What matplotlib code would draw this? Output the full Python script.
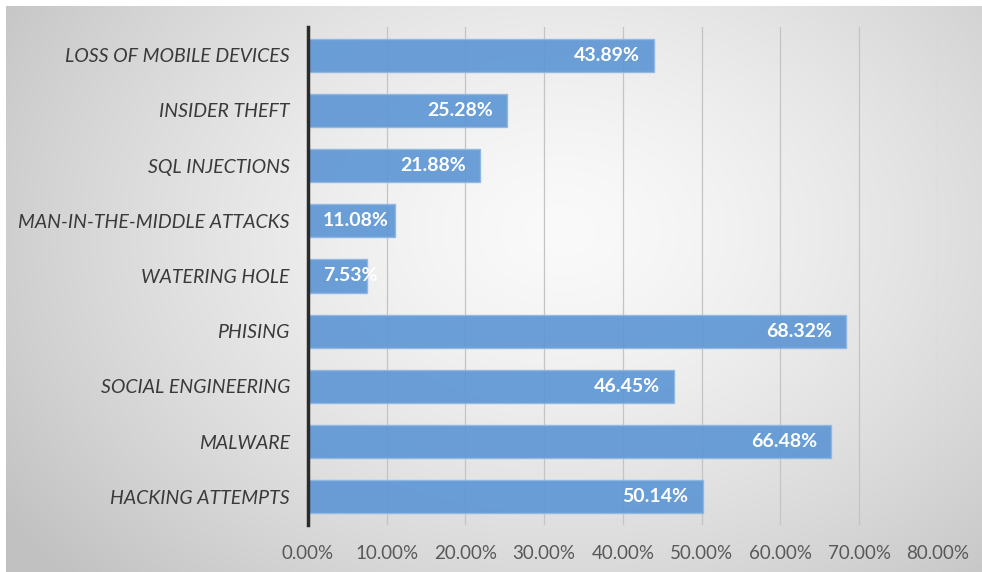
import matplotlib.pyplot as plt
import numpy as np
from matplotlib.ticker import FuncFormatter

categories = ['HACKING ATTEMPTS', 'MALWARE', 'SOCIAL ENGINEERING', 'PHISING',
              'WATERING HOLE', 'MAN-IN-THE-MIDDLE ATTACKS', 'SQL INJECTIONS',
              'INSIDER THEFT', 'LOSS OF MOBILE DEVICES']
values = [50.14, 66.48, 46.45, 68.32, 7.53, 11.08, 21.88, 25.28, 43.89]
ticks = [0, 10, 20, 30, 40, 50, 60, 70, 80]

plt.rcParams['font.family'] = ['Lato', 'DejaVu Sans']

fig = plt.figure(figsize=(9.82, 5.72), dpi=100)

# radial grey background
bg = fig.add_axes([0, 0, 1, 1], zorder=0)
yy, xx = np.mgrid[0:572, 0:982]
r = np.sqrt(((xx - 560) / 560.0) ** 2 + ((yy - 230) / 420.0) ** 2)
shade = np.clip(0.98 - 0.17 * r ** 1.4, 0.76, 0.98)
img = np.dstack([shade, shade, shade])
img[:6, :, :] = 1.0
img[:, :6, :] = 1.0
bg.imshow(img, aspect='auto', extent=[0, 1, 0, 1])
bg.axis('off')

ax = fig.add_axes([0.3136, 0.083, 0.955 - 0.3136, 0.952 - 0.083], zorder=1)
ax.set_facecolor('none')

y = np.arange(len(categories))
bars = ax.barh(y, values, height=0.6, color='#5f97d4', edgecolor='#8fb6e3',
               linewidth=1.0, alpha=0.92, zorder=2)

ax.set_xlim(0, 80)
ax.set_ylim(-0.5, len(categories) - 0.5)

labels = []
for b, v in zip(bars, values):
    t = ax.text(v - 1.8, b.get_y() + b.get_height() / 2, '%.2f%%' % v,
                ha='right', va='center', color='white', fontweight='bold',
                fontsize=14, zorder=3)
    labels.append(t)

# labels that would run into the axis are pushed right, like Excel does
fig.canvas.draw()
x0 = ax.transData.transform((0, 0))[0]
for t in labels:
    ext = t.get_window_extent()
    if ext.x0 < x0 + 14:
        t.set_x(1.9)
        t.set_ha('left')

ax.set_xticks(ticks)
ax.xaxis.set_major_formatter(FuncFormatter(lambda x, p: '%.2f%%' % x))
ax.set_yticks(y)
ax.set_yticklabels(categories, fontstyle='italic')
ax.tick_params(axis='y', length=0, pad=13, labelsize=14, labelcolor='#3a3a3a')
ax.tick_params(axis='x', length=0, pad=15, labelsize=13.5, labelcolor='#595959')

ax.grid(axis='x', color='#c4c4c4', linewidth=0.9, zorder=1)
ax.set_axisbelow(True)
for s in ['top', 'right', 'bottom']:
    ax.spines[s].set_visible(False)
ax.spines['left'].set_color('#2b2b2b')
ax.spines['left'].set_linewidth(2.5)
ax.spines['left'].set_zorder(4)

fig.savefig('out.png', dpi=100)
